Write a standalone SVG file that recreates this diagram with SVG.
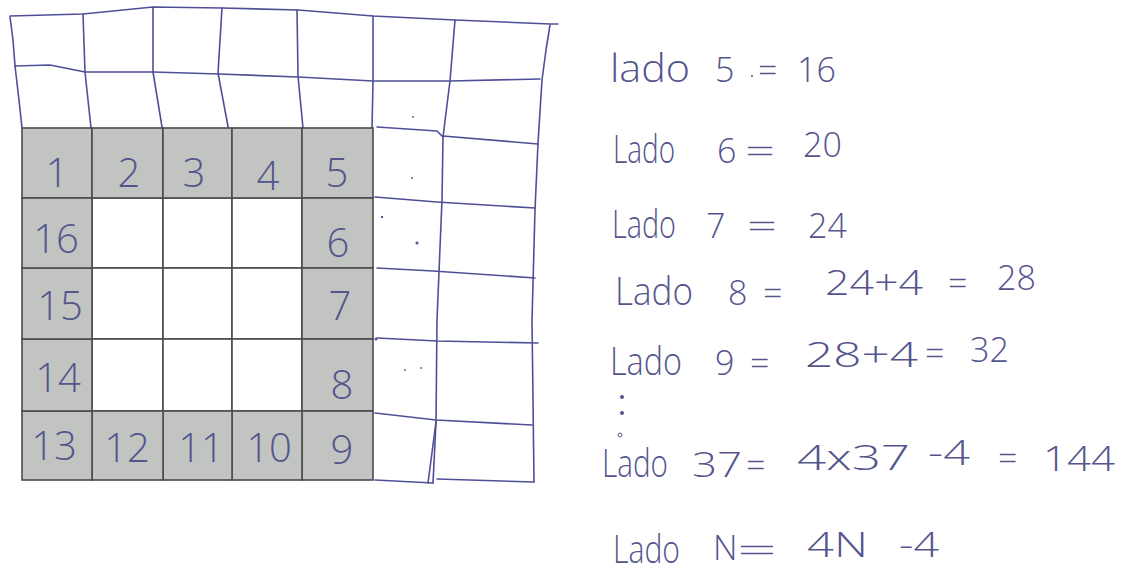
<svg xmlns="http://www.w3.org/2000/svg" width="1128" height="579" viewBox="0 0 1128 579">
<style>
.pen{fill:none;stroke:#4f4f98;stroke-width:1.6;stroke-linejoin:round;stroke-linecap:round}
.cell{stroke:#4a4c4a;stroke-width:1.6}
.sh{fill:#c2c4c1}
.wh{fill:#ffffff}
.cn{font-family:"Open Sans","Liberation Sans",sans-serif;font-weight:300;font-size:40px;fill:#55558e;text-anchor:middle}
.hw{font-family:"Open Sans","Liberation Sans",sans-serif;font-weight:300;font-size:34px;fill:#55558e}
.lw{font-size:39px}
.speck{fill:#55558e}
</style>
<rect x="0" y="0" width="1128" height="579" fill="#ffffff"/>

<g id="pen-grid">
<polyline class="pen" points="10,16 83,14 153,7 222,8 298,10 373,16 455,20 550,24 558,24"/>
<polyline class="pen" points="15,66 50,65 85,72 153,72 219,74 298,77 373,81 450,81 540,79"/>
<polyline class="pen" points="10,17 13,40 15,66 19,100 22,128"/>
<polyline class="pen" points="83,14 85,72 91,128 92,142"/>
<polyline class="pen" points="153,7 153,72 163,133"/>
<polyline class="pen" points="222,8 218,73 230,137"/>
<polyline class="pen" points="297,10 298,76 303,128"/>
<polyline class="pen" points="373,16 373,82 372,128"/>
<polyline class="pen" points="455,20 450,81 443,137 442,200 437,320 436,422 433,483"/>
<polyline class="pen" points="436,422 428,483"/>
<polyline class="pen" points="550,25 546,50 542,80 538,143 535,210 532,320 533,400 534,482"/>
<polyline class="pen" points="377,127 437,131 443,137"/>
<polyline class="pen" points="443,136 538,144"/>
<polyline class="pen" points="375,197 437,202 535,208"/>
<polyline class="pen" points="377,268 433,271 535,278"/>
<polyline class="pen" points="377,338 437,341 538,343"/>
<polyline class="pen" points="375,413 436,420 532,425"/>
<polyline class="pen" points="375,480 433,483"/>
<polyline class="pen" points="437,479 534,482"/>
<circle class="speck" cx="412" cy="178" r="1"/>
<circle class="speck" cx="382" cy="217" r="1.2"/>
<circle class="speck" cx="417" cy="243" r="1.6"/>
<circle class="speck" cx="405" cy="370" r="0.9"/>
<circle class="speck" cx="421" cy="368" r="0.9"/>
<circle class="speck" cx="413" cy="117" r="0.9"/>
<circle class="speck" cx="376" cy="339" r="1.5"/>
</g>

<g id="inner-cells">
<rect class="cell wh" x="92" y="198" width="71" height="70"/>
<rect class="cell wh" x="163" y="198" width="69" height="70"/>
<rect class="cell wh" x="232" y="198" width="70" height="70"/>
<rect class="cell wh" x="92" y="268" width="71" height="71"/>
<rect class="cell wh" x="163" y="268" width="69" height="71"/>
<rect class="cell wh" x="232" y="268" width="70" height="71"/>
<rect class="cell wh" x="92" y="339" width="71" height="72"/>
<rect class="cell wh" x="163" y="339" width="69" height="72"/>
<rect class="cell wh" x="232" y="339" width="70" height="72"/>
</g>

<g id="cell-1"><rect class="cell sh" x="22" y="128" width="70" height="70"/><text class="cn" x="57" y="187">1</text></g>
<g id="cell-2"><rect class="cell sh" x="92" y="128" width="71" height="70"/><text class="cn" x="129" y="187">2</text></g>
<g id="cell-3"><rect class="cell sh" x="163" y="128" width="69" height="70"/><text class="cn" x="194" y="187">3</text></g>
<g id="cell-4"><rect class="cell sh" x="232" y="128" width="70" height="70"/><text class="cn" x="268" y="190">4</text></g>
<g id="cell-5"><rect class="cell sh" x="302" y="128" width="71" height="70"/><text class="cn" x="337" y="187">5</text></g>
<g id="cell-6"><rect class="cell sh" x="302" y="198" width="71" height="70"/><text class="cn" x="338" y="257">6</text></g>
<g id="cell-7"><rect class="cell sh" x="302" y="268" width="71" height="71"/><text class="cn" x="340" y="320">7</text></g>
<g id="cell-8"><rect class="cell sh" x="302" y="339" width="71" height="72"/><text class="cn" x="342" y="399">8</text></g>
<g id="cell-9"><rect class="cell sh" x="302" y="411" width="71" height="69"/><text class="cn" x="342" y="464">9</text></g>
<g id="cell-10"><rect class="cell sh" x="232" y="411" width="70" height="69"/><text class="cn" x="269" y="462">10</text></g>
<g id="cell-11"><rect class="cell sh" x="163" y="411" width="69" height="69"/><text class="cn" x="201" y="462">11</text></g>
<g id="cell-12"><rect class="cell sh" x="92" y="411" width="71" height="69"/><text class="cn" x="127" y="462">12</text></g>
<g id="cell-13"><rect class="cell sh" x="22" y="411" width="70" height="69"/><text class="cn" x="54" y="460">13</text></g>
<g id="cell-14"><rect class="cell sh" x="22" y="339" width="70" height="72"/><text class="cn" x="58" y="392">14</text></g>
<g id="cell-15"><rect class="cell sh" x="22" y="268" width="70" height="71"/><text class="cn" x="60" y="320">15</text></g>
<g id="cell-16"><rect class="cell sh" x="22" y="198" width="70" height="70"/><text class="cn" x="56" y="253">16</text></g>

<g id="notes">
<text class="hw" y="82"><tspan class="lw" x="610" textLength="80" lengthAdjust="spacingAndGlyphs">lado</tspan><tspan x="715">5</tspan><tspan x="758">=</tspan><tspan x="797">16</tspan></text>
<circle class="speck" cx="752" cy="76" r="1"/>
<text class="hw" y="163"><tspan class="lw" x="613" textLength="62" lengthAdjust="spacingAndGlyphs">Lado</tspan><tspan x="717">6</tspan><tspan x="745" textLength="30" lengthAdjust="spacingAndGlyphs">=</tspan><tspan x="803" y="157">20</tspan></text>
<text class="hw" y="238"><tspan class="lw" x="612" textLength="64" lengthAdjust="spacingAndGlyphs">Lado</tspan><tspan x="706">7</tspan><tspan x="747" textLength="30" lengthAdjust="spacingAndGlyphs">=</tspan><tspan x="808">24</tspan></text>
<text class="hw" y="305"><tspan class="lw" x="615" textLength="78" lengthAdjust="spacingAndGlyphs">Lado</tspan><tspan x="728">8</tspan><tspan x="763">=</tspan><tspan x="825" y="295" textLength="98" lengthAdjust="spacingAndGlyphs">24+4</tspan><tspan x="948" y="295">=</tspan><tspan x="997" y="290">28</tspan></text>
<text class="hw" y="375"><tspan class="lw" x="610" textLength="72" lengthAdjust="spacingAndGlyphs">Lado</tspan><tspan x="715">9</tspan><tspan x="750">=</tspan><tspan x="805" y="367" textLength="113" lengthAdjust="spacingAndGlyphs">28+4</tspan><tspan x="925" y="365">=</tspan><tspan x="970" y="362">32</tspan></text>
<circle class="speck" cx="622" cy="397" r="2"/>
<circle class="speck" cx="622" cy="413" r="2"/>
<circle cx="620" cy="435" r="2" fill="none" stroke="#55558e" stroke-width="1"/>
<text class="hw" y="477"><tspan class="lw" x="602" textLength="66" lengthAdjust="spacingAndGlyphs">Lado</tspan><tspan x="692" textLength="50" lengthAdjust="spacingAndGlyphs">37</tspan><tspan x="746">=</tspan><tspan x="797" y="470" textLength="113" lengthAdjust="spacingAndGlyphs">4x37</tspan><tspan x="928" y="465" textLength="42" lengthAdjust="spacingAndGlyphs">-4</tspan><tspan x="998" y="470">=</tspan><tspan x="1043" y="471" textLength="72" lengthAdjust="spacingAndGlyphs">144</tspan></text>
<text class="hw" y="563"><tspan class="lw" x="613" textLength="67" lengthAdjust="spacingAndGlyphs">Lado</tspan><tspan x="713" y="560">N</tspan><tspan x="737" y="562" textLength="40" lengthAdjust="spacingAndGlyphs">=</tspan><tspan x="807" y="557" textLength="61" lengthAdjust="spacingAndGlyphs">4N</tspan><tspan x="899" y="557" textLength="40" lengthAdjust="spacingAndGlyphs">-4</tspan></text>
</g>
</svg>
